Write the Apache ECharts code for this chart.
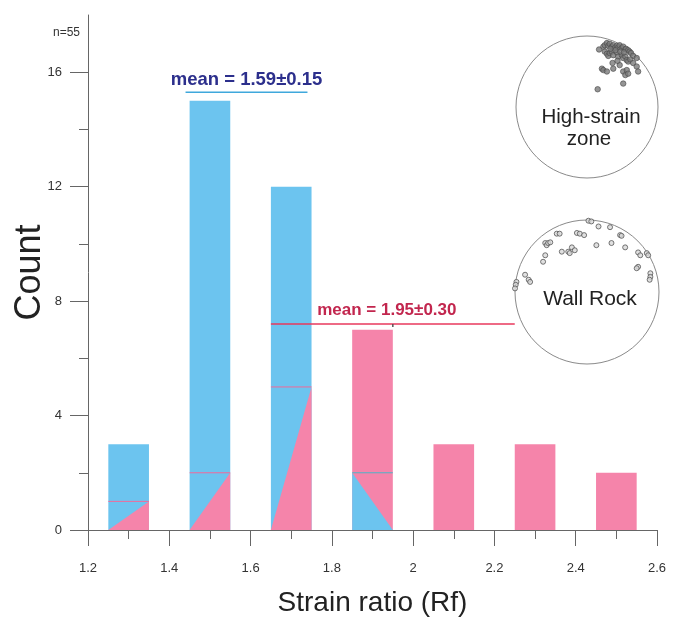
<!DOCTYPE html>
<html>
<head>
<meta charset="utf-8">
<script src="https://cdn.jsdelivr.net/npm/echarts@6/dist/echarts.min.js"></script>
<style>
html,body{margin:0;padding:0;background:#fff;}
#chart{width:676px;height:630px;}
</style>
</head>
<body>
<div id="chart"></div>
<script>
// ---- data ----
const binCenters = [1.3, 1.5, 1.7, 1.9, 2.1, 2.3, 2.5];
const blueCounts = [3, 15, 12, 2, 0, 0, 0];
const pinkCounts = [1, 2, 5, 7, 3, 3, 2];
const xTicks = [1.2, 1.4, 1.6, 1.8, 2.0, 2.2, 2.4, 2.6];
const yTickLabels = [0, 4, 8, 12, 16];
const yMinorTicks = [2, 6, 10, 14];
const blueMean = [1.59, 0.15];
const pinkMean = [1.95, 0.30];
const sampleCount = 55;

const highStrainPoints = [
  [0.17,0.81],[0.23,0.85],[0.25,0.87],[0.28,0.90],[0.30,0.86],[0.32,0.89],[0.35,0.85],
  [0.37,0.87],[0.39,0.83],[0.42,0.86],[0.44,0.84],[0.46,0.87],[0.49,0.83],[0.51,0.85],
  [0.54,0.81],[0.55,0.82],[0.58,0.80],[0.60,0.78],[0.62,0.76],[0.65,0.72],[0.70,0.69],
  [0.25,0.78],[0.28,0.75],[0.30,0.72],[0.32,0.76],[0.35,0.78],[0.37,0.73],[0.42,0.77],
  [0.44,0.71],[0.49,0.73],[0.51,0.69],[0.54,0.71],[0.56,0.66],[0.58,0.64],[0.61,0.67],
  [0.65,0.62],[0.70,0.57],[0.72,0.50],[0.21,0.54],[0.23,0.52],[0.28,0.50],[0.37,0.54],
  [0.46,0.59],[0.51,0.50],[0.56,0.52],[0.54,0.45],[0.58,0.47],[0.51,0.33],[0.15,0.25],
  [0.40,0.80],[0.47,0.78],[0.33,0.82],[0.52,0.77],[0.36,0.62],[0.43,0.65]
];
const wallRockPoints = [
  [0.02,0.99],[0.06,0.98],[0.16,0.91],[0.32,0.90],[0.46,0.79],[0.48,0.78],[0.71,0.55],
  [0.74,0.51],[0.83,0.54],[0.85,0.51],[0.71,0.35],[0.69,0.33],[0.88,0.26],[0.88,0.21],
  [0.87,0.17],[-0.14,0.82],[-0.10,0.81],[-0.04,0.79],[-0.42,0.81],[-0.38,0.81],[-0.58,0.68],
  [-0.56,0.65],[-0.54,0.68],[-0.51,0.69],[-0.58,0.51],[-0.61,0.42],[-0.35,0.56],[-0.26,0.56],
  [-0.21,0.62],[-0.17,0.58],[-0.24,0.54],[0.13,0.65],[0.34,0.68],[0.53,0.62],[-0.86,0.24],
  [-0.81,0.17],[-0.79,0.14],[-0.98,0.14],[-0.99,0.10],[-1.0,0.05]
];

// ---- styles ----
const BLUE = '#6cc4ef';
const PINK = '#f584aa';
const AXIS = '#666';
const FONT = '"Liberation Sans", Arial, sans-serif';
const BIN_HALF = 0.05;

const histData = binCenters.map((c, i) => [c, blueCounts[i], pinkCounts[i]]);

function renderBin(params, api) {
  const c = api.value(0), b = api.value(1), p = api.value(2);
  const x0 = c - BIN_HALF, x1 = c + BIN_HALF;
  const children = [];
  const poly = (pts, fill) => ({
    type: 'polygon',
    shape: { points: pts.map(pt => api.coord(pt)) },
    style: { fill: fill }
  });
  if (b >= p) {
    children.push(poly([[x0, 0], [x0, b], [x1, b], [x1, 0]], BLUE));
    if (p > 0) {
      children.push(poly([[x0, 0], [x1, p], [x1, 0]], PINK));
      const a = api.coord([x0, p]), e = api.coord([x1, p]);
      children.push({ type: 'line', shape: { x1: a[0], y1: a[1], x2: e[0], y2: e[1] }, style: { stroke: '#f06a9a', lineWidth: 1 } });
    }
  } else {
    children.push(poly([[x0, 0], [x0, p], [x1, p], [x1, 0]], PINK));
    if (b > 0) {
      children.push(poly([[x0, 0], [x0, b], [x1, 0]], BLUE));
      const a = api.coord([x0, b]), e = api.coord([x1, b]);
      children.push({ type: 'line', shape: { x1: a[0], y1: a[1], x2: e[0], y2: e[1] }, style: { stroke: '#4fb3c8', lineWidth: 1 } });
    }
  }
  return { type: 'group', children: children };
}

function meanSeries(meanSd, level, lineColor, textColor, fontSize, textGap, tickMark) {
  return {
    type: 'custom',
    xAxisIndex: 0, yAxisIndex: 0,
    z: 5,
    data: [[meanSd[0], meanSd[1]]],
    renderItem: function (params, api) {
      const m = api.value(0), s = api.value(1);
      const a = api.coord([m - s, level]);
      const e = api.coord([m + s, level]);
      const mid = api.coord([m, level]);
      const ch = [
        { type: 'line', shape: { x1: a[0], y1: a[1], x2: e[0], y2: e[1] }, style: { stroke: lineColor, lineWidth: 1.6 } },
        { type: 'text', x: mid[0] + (tickMark ? -6 : 0), y: mid[1] - textGap,
          style: { text: 'mean = ' + m.toFixed(2) + '±' + s.toFixed(2), fill: textColor,
            font: 'bold ' + fontSize + 'px ' + FONT, align: 'center', verticalAlign: 'bottom' } }
      ];
      if (tickMark) {
        ch.push({ type: 'line', shape: { x1: mid[0], y1: mid[1], x2: mid[0], y2: mid[1] + 3 }, style: { stroke: '#555', lineWidth: 1.5 } });
      }
      return { type: 'group', children: ch };
    }
  };
}

function circleSeries(gridIdx) {
  return {
    type: 'custom',
    xAxisIndex: gridIdx, yAxisIndex: gridIdx,
    z: 2,
    silent: true,
    data: [[0, 0]],
    renderItem: function (params, api) {
      const c = api.coord([0, 0]);
      const r = api.size([1, 1])[0];
      return { type: 'circle', shape: { cx: c[0], cy: c[1], r: r }, style: { fill: '#fff', stroke: '#8a8a8a', lineWidth: 1 } };
    }
  };
}

const netAxis = (grid) => ({ gridIndex: grid, type: 'value', min: -1, max: 1, show: false });

const chart = echarts.init(document.getElementById('chart'), null, { renderer: 'canvas' });
chart.setOption({
  backgroundColor: '#ffffff',
  animation: false,
  textStyle: { fontFamily: FONT },
  grid: [
    { left: 88, right: 19, top: 15, bottom: 100, containLabel: false, outerBoundsMode: 'none' },
    { left: 516, top: 36, width: 142, height: 142, outerBoundsMode: 'none' },
    { left: 515, top: 220, width: 144, height: 144, outerBoundsMode: 'none' }
  ],
  xAxis: [
    {
      gridIndex: 0, type: 'value', min: 1.2, max: 2.6, interval: 0.2,
      name: 'Strain ratio (Rf)', nameLocation: 'middle', nameGap: 59,
      nameTextStyle: { fontSize: 28, color: '#222', fontFamily: FONT },
      axisLine: { show: true, lineStyle: { color: AXIS, width: 1 } },
      axisTick: { show: true, length: 16, lineStyle: { color: AXIS } },
      minorTick: { show: true, splitNumber: 2, length: 9, lineStyle: { color: AXIS } },
      axisLabel: { fontSize: 13, color: '#333', margin: 32, fontFamily: FONT,
        formatter: v => String(+v.toFixed(1)) },
      splitLine: { show: false }, minorSplitLine: { show: false }
    },
    netAxis(1),
    netAxis(2)
  ],
  yAxis: [
    {
      gridIndex: 0, type: 'value', min: 0, max: 18, interval: 2,
      name: 'Count', nameLocation: 'middle', nameGap: 40, nameMoveOverlap: false,
      nameTextStyle: { fontSize: 36, color: '#222', fontFamily: FONT },
      axisLine: { show: true, lineStyle: { color: AXIS, width: 1 } },
      axisTick: { show: true, length: 9, customValues: yMinorTicks, lineStyle: { color: AXIS } },
      axisLabel: { fontSize: 13, color: '#333', margin: 26, customValues: yTickLabels, fontFamily: FONT },
      splitLine: { show: false }
    },
    netAxis(1),
    netAxis(2),
    {
      gridIndex: 0, type: 'value', min: 0, max: 18, position: 'left',
      axisLine: { show: false },
      axisTick: { show: true, length: 18, customValues: yTickLabels, lineStyle: { color: AXIS } },
      axisLabel: { show: false },
      splitLine: { show: false }
    }
  ],
  series: [
    {
      type: 'custom', xAxisIndex: 0, yAxisIndex: 0, z: 3,
      data: histData,
      renderItem: renderBin
    },
    meanSeries(blueMean, 15.3, '#3fa8dc', '#2c2f8c', 18.5, 3, false),
    meanSeries(pinkMean, 7.2, '#e8395c', '#c2264e', 17, 5, true),
    circleSeries(1),
    circleSeries(2),
    {
      type: 'scatter', xAxisIndex: 1, yAxisIndex: 1, z: 4,
      data: highStrainPoints, symbolSize: 5.5,
      itemStyle: { color: '#7a7a7a', borderColor: '#4a4a4a', borderWidth: 0.8 }
    },
    {
      type: 'scatter', xAxisIndex: 2, yAxisIndex: 2, z: 4,
      data: wallRockPoints, symbolSize: 5,
      itemStyle: { color: '#d8d8d8', borderColor: '#555', borderWidth: 1 }
    }
  ],
  graphic: [
    { type: 'text', x: 80, y: 33, z: 10, style: { text: 'n=' + sampleCount, font: '12px ' + FONT, fill: '#333', align: 'right', verticalAlign: 'middle' } },
    { type: 'text', x: 591, y: 117, z: 10, style: { text: 'High-strain', font: '20.5px ' + FONT, fill: '#222', align: 'center', verticalAlign: 'middle' } },
    { type: 'text', x: 589, y: 139, z: 10, style: { text: 'zone', font: '20.5px ' + FONT, fill: '#222', align: 'center', verticalAlign: 'middle' } },
    { type: 'text', x: 590, y: 299, z: 10, style: { text: 'Wall Rock', font: '21px ' + FONT, fill: '#222', align: 'center', verticalAlign: 'middle' } }
  ]
});
</script>
</body>
</html>
